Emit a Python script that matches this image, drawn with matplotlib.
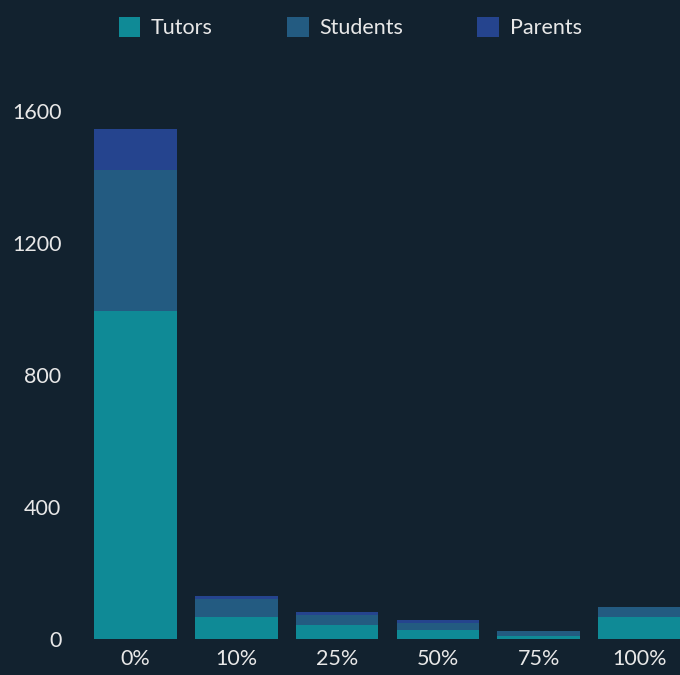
import numpy as np
import matplotlib.pyplot as plt

categories = ['0%', '10%', '25%', '50%', '75%', '100%']
tutors = [995, 66, 42, 26, 9, 66]
students = [425, 55, 31, 24, 15, 31]
parents = [125, 10, 9, 9, 0, 0]

bg = '#12222f'
c_tut = '#0f8a96'
c_stu = '#235b81'
c_par = '#25448e'

plt.rcParams['font.family'] = ['Lato', 'DejaVu Sans']

fig = plt.figure(figsize=(6.8, 6.75), dpi=100, facecolor=bg)
ax = fig.add_axes([85/680, 1 - 639/675, 1 - 85/680, (639 - 45)/675])
ax.set_facecolor(bg)

x = np.arange(len(categories))
t = np.array(tutors)
s = np.array(students)
p = np.array(parents)
w = 0.82
ax.bar(x, t, w, color=c_tut, label='Tutors')
ax.bar(x, s, w, bottom=t, color=c_stu, label='Students')
ax.bar(x, p, w, bottom=t + s, color=c_par, label='Parents')

ax.set_xlim(-0.5, 5.4)
ax.set_ylim(0, 1800)
ax.set_yticks([0, 400, 800, 1200, 1600])
ax.set_xticks(x)
ax.set_xticklabels(categories)
ax.tick_params(colors='#e8e8e8', labelsize=15.5, length=0)
ax.tick_params(axis='y', pad=17)
ax.tick_params(axis='x', pad=7)
for sp in ax.spines.values():
    sp.set_visible(False)

fig.legend(loc='upper center', bbox_to_anchor=(0.515, 1.003), ncol=3, frameon=False,
           fontsize=15.5, labelcolor='#e8e8e8', handlelength=1.0, handleheight=1.0,
           columnspacing=3.45, handletextpad=0.5)

fig.savefig('out.png', dpi=100, facecolor=bg)
